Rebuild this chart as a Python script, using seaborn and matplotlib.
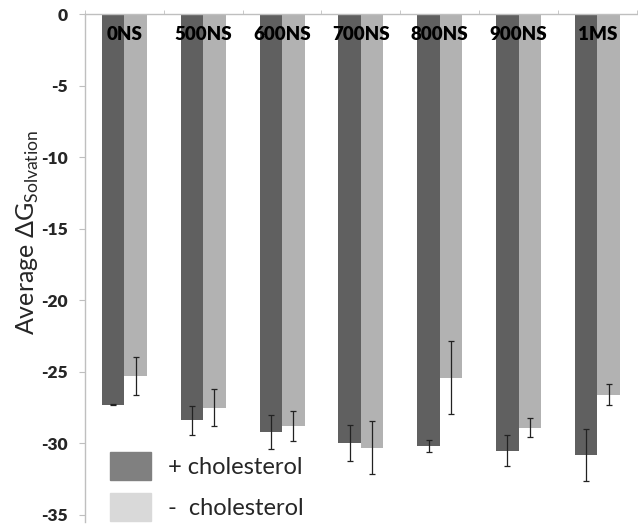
import matplotlib
matplotlib.use('Agg')
import matplotlib.pyplot as plt
import matplotlib.patches as mpatches
import numpy as np
import pandas as pd
import seaborn as sns

# values (average dG solvation)
times = ['0NS', '500NS', '600NS', '700NS', '800NS', '900NS', '1MS']
with_chol = [-27.3, -28.4, -29.2, -30.0, -30.2, -30.5, -30.8]
with_chol_err = [0.05, 1.0, 1.2, 1.25, 0.4, 1.1, 1.8]
without_chol = [-25.3, -27.5, -28.8, -30.3, -25.4, -28.9, -26.6]
without_chol_err = [1.35, 1.3, 1.05, 1.85, 2.55, 0.65, 0.75]
groups = ['+ cholesterol', '-  cholesterol']

bar_colors = ['#606060', '#b2b2b2']
legend_colors = ['#808080', '#d9d9d9']

df = pd.DataFrame({
    'time': times * 2,
    'value': with_chol + without_chol,
    'group': [groups[0]] * len(times) + [groups[1]] * len(times),
})
errs = [with_chol_err, without_chol_err]

sns.set_style('white')
plt.rcParams['font.family'] = ['Lato', 'DejaVu Sans']
plt.rcParams['mathtext.fontset'] = 'custom'
plt.rcParams['mathtext.rm'] = 'Lato'

fig = plt.figure(figsize=(6.38, 5.25), dpi=100)
ax = fig.add_axes([0.1332, 0.0057, 0.865, 0.967])

sns.barplot(data=df, x='time', y='value', hue='group', order=times,
            hue_order=groups, palette=bar_colors, width=0.57, linewidth=0,
            errorbar=None, legend=False, ax=ax, saturation=1)

# error bars on top of each bar
for cont, err in zip(ax.containers, errs):
    xs = [b.get_x() + b.get_width() / 2 for b in cont]
    ys = [b.get_height() for b in cont]
    ax.errorbar(xs, ys, yerr=err, fmt='none', ecolor='#222222',
                elinewidth=0.9, capsize=2.5, capthick=0.9)

ax.set_axisbelow(False)
ax.set_ylim(-35.5, 0)
ax.set_xlim(-0.5, 6.37)

# category labels sit just inside the top axis line
ax.xaxis.set_ticks_position('top')
ax.xaxis.set_label_position('top')
ax.set_xlabel('')
ax.set_xticks(range(len(times)))
ax.set_xticks(np.arange(-0.5, len(times), 1), minor=True)
ax.tick_params(axis='x', which='major', length=0, pad=-21, labelsize=13.5,
               colors='black')
ax.tick_params(axis='x', which='minor', length=3, direction='out',
               color='#bfbfbf', top=True, bottom=False)
ax.tick_params(axis='y', length=4.5, direction='out', color='#bfbfbf',
               labelsize=12.5, pad=8, left=True)
ax.set_xticklabels(times)
ax.set_yticks(np.arange(-35, 1, 5))
ax.set_yticklabels([str(v) for v in range(-35, 1, 5)])
for lab in ax.get_xticklabels() + ax.get_yticklabels():
    lab.set_fontweight('heavy')

for side in ['bottom', 'right']:
    ax.spines[side].set_visible(False)
for side in ['top', 'left']:
    ax.spines[side].set_color('#bfbfbf')
    ax.spines[side].set_linewidth(1)

ax.set_ylabel(r'Average ΔG$_{\rm Solvation}$', fontsize=18)
ax.yaxis.set_label_coords(-0.08, 0.57)

handles = [mpatches.Patch(color=c, label=g) for c, g in zip(legend_colors, groups)]
fig.legend(handles=handles, loc='upper left', bbox_to_anchor=(110 / 638, 1 - 452 / 525),
           frameon=False, fontsize=17, handlelength=1.75, handleheight=1.45,
           labelspacing=0.55, handletextpad=0.7, borderpad=0, borderaxespad=0)

fig.savefig('out.png', dpi=100)
